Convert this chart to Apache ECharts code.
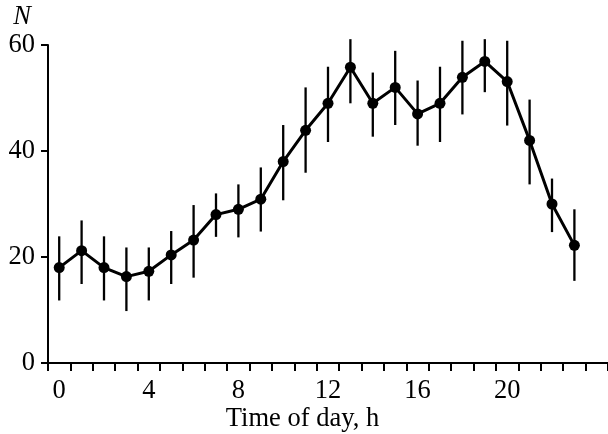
<!DOCTYPE html>
<html>
<head>
<meta charset="utf-8">
<script src="https://cdn.jsdelivr.net/npm/echarts@6/dist/echarts.min.js"></script>
<style>
  html, body { margin: 0; padding: 0; background: #fff; }
  #chart { width: 608px; height: 434px; }
</style>
</head>
<body>
<div id="chart"></div>
<script>
// hours of the day (25 slots so the axis runs out to 24)
const hours = ['0','1','2','3','4','5','6','7','8','9','10','11','12','13','14','15','16','17','18','19','20','21','22','23','24']
const xTickLabels = ['0', '4', '8', '12', '16', '20']
// mean N per hour
const meanN = [18, 21.2, 18, 16.3, 17.3, 20.4, 23.2, 28, 29, 30.9, 38, 43.9, 49, 55.8, 49, 52, 47, 49, 53.9, 56.9, 53.1, 42, 30, 22.2]
// error bar ends
const lowN = [11.8, 14.9, 11.8, 9.8, 11.8, 14.9, 16.1, 23.8, 23.7, 24.8, 30.7, 35.9, 41.7, 49, 42.7, 44.9, 41, 41.7, 46.9, 51.1, 44.8, 33.7, 24.7, 15.5]
const highN = [23.9, 26.9, 23.9, 21.8, 21.8, 24.9, 29.8, 32, 33.7, 36.9, 44.9, 52, 55.9, 61.1, 54.8, 58.9, 53.3, 55.9, 60.8, 61.1, 60.8, 49.7, 34.8, 29]
const yTicks = [0, 20, 40, 60]

const font = 'Liberation Serif'
const chart = echarts.init(document.getElementById('chart'))

let option = {
  animation: false,
  backgroundColor: '#fff',
  grid: {
    left: 48,
    right: 0,
    top: 45,
    bottom: 71,
    outerBoundsMode: 'none'
  },
  xAxis: {
    type: 'category',
    data: hours,
    boundaryGap: true,
    name: 'Time of day, h',
    nameLocation: 'middle',
    nameGap: 43,
    nameMoveOverlap: false,
    nameTextStyle: {
      fontFamily: font,
      fontSize: 26.5,
      color: '#000',
      padding: [0, 51, 0, 0]
    },
    axisLine: { lineStyle: { color: '#000', width: 2 } },
    axisTick: {
      show: true,
      interval: 0,
      length: 8,
      lineStyle: { color: '#000', width: 2 }
    },
    axisLabel: {
      interval: 0,
      margin: 15,
      fontFamily: font,
      fontSize: 26.5,
      color: '#000',
      formatter: function (v) {
        return xTickLabels.indexOf(v) >= 0 ? v : ''
      }
    },
    splitLine: { show: false }
  },
  yAxis: {
    type: 'value',
    min: yTicks[0],
    max: yTicks[yTicks.length - 1],
    interval: 20,
    name: 'N',
    nameLocation: 'end',
    nameGap: 14,
    nameTextStyle: {
      fontFamily: font,
      fontSize: 26.5,
      fontStyle: 'italic',
      color: '#000',
      padding: [0, 52, 0, 0]
    },
    axisLine: { show: true, lineStyle: { color: '#000', width: 2 } },
    axisTick: { show: true, length: 7, lineStyle: { color: '#000', width: 2 } },
    axisLabel: {
      margin: 13,
      fontFamily: font,
      fontSize: 26.5,
      color: '#000'
    },
    splitLine: { show: false }
  },
  series: [
    {
      // 误差线
      type: 'custom',
      z: 2,
      renderItem: function (params, api) {
        let top = api.coord([api.value(0), api.value(2)])
        let bottom = api.coord([api.value(0), api.value(1)])
        return {
          type: 'line',
          shape: { x1: top[0], y1: top[1], x2: bottom[0], y2: bottom[1] },
          style: { stroke: '#000', lineWidth: 2.3 }
        }
      },
      data: meanN.map((v, i) => [i, lowN[i], highN[i]])
    },
    {
      type: 'line',
      z: 3,
      data: meanN,
      symbol: 'circle',
      symbolSize: 11,
      lineStyle: { color: '#000', width: 3 },
      itemStyle: { color: '#000' }
    }
  ]
}
chart.setOption(option)
</script>
</body>
</html>
